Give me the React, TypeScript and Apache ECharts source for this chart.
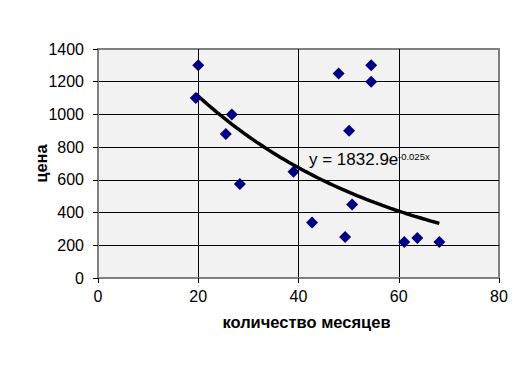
import React, { useEffect, useRef } from "react";
import * as echarts from "echarts";

const months: number[] = [19.5, 20, 26.7, 25.5, 28.3, 39, 42.7, 48, 54.5, 54.5, 50.1, 50.7, 49.3, 61.1, 63.7, 68.1];
const prices: number[] = [1100, 1300, 1000, 880, 575, 650, 340, 1250, 1300, 1200, 900, 450, 250, 220, 245, 220];

const trendA = 1832.9;
const trendK = -0.025;
const trendFrom = 19.5;
const trendTo = 68.1;

const xTicks = [0, 20, 40, 60, 80];
const yTicks = [0, 200, 400, 600, 800, 1000, 1200, 1400];

export default function App() {
  const ref = useRef<HTMLDivElement>(null);
  useEffect(() => {
    document.body.style.margin = "0";
    if (!ref.current) return;
    const chart = echarts.init(ref.current, undefined, { renderer: "svg" });
    const trend: number[][] = [];
    const steps = 60;
    for (let i = 0; i <= steps; i++) {
      const x = trendFrom + ((trendTo - trendFrom) * i) / steps;
      trend.push([x, trendA * Math.exp(trendK * x)]);
    }
    const font = "'Liberation Sans', Arial, sans-serif";
    chart.setOption({
      animation: false,
      backgroundColor: "#ffffff",
      textStyle: { fontFamily: font },
      grid: {
        left: 98,
        right: 24,
        top: 49,
        bottom: 100,
        show: true,
        backgroundColor: "#f2f2f2",
        borderColor: "#808080",
        borderWidth: 2,
      },
      xAxis: {
        type: "value",
        min: xTicks[0],
        max: xTicks[xTicks.length - 1],
        interval: 20,
        name: "количество месяцев",
        nameLocation: "middle",
        nameGap: 35,
        nameMoveOverlap: false,
        nameTextStyle: { fontSize: 16.5, fontWeight: "bold", color: "#000", fontFamily: font, padding: [0, 0, 0, 16] },
        axisLine: { show: true, lineStyle: { color: "#808080", width: 2 } },
        axisTick: { show: true, length: 5, lineStyle: { color: "#000" } },
        axisLabel: { fontSize: 16, color: "#000", margin: 10, fontFamily: font, formatter: (v: number) => String(v) },
        splitLine: { show: true, showMinLine: false, showMaxLine: false, lineStyle: { color: "#000", width: 1 } },
      },
      yAxis: {
        type: "value",
        min: yTicks[0],
        max: yTicks[yTicks.length - 1],
        interval: 200,
        name: "цена",
        nameLocation: "middle",
        nameGap: 49,
        nameMoveOverlap: false,
        nameRotate: 90,
        nameTextStyle: { fontSize: 16.5, fontWeight: "bold", color: "#000", fontFamily: font },
        axisLine: { show: true, lineStyle: { color: "#808080", width: 2 } },
        axisTick: { show: true, length: 5, lineStyle: { color: "#000" } },
        axisLabel: { fontSize: 16, color: "#000", margin: 14, fontFamily: font, formatter: (v: number) => String(v) },
        splitLine: { show: true, showMinLine: false, showMaxLine: false, lineStyle: { color: "#000", width: 1 } },
      },
      series: [
        {
          type: "line",
          data: trend,
          showSymbol: false,
          symbol: "none",
          lineStyle: { color: "#000", width: 3.5 },
          z: 3,
        },
        {
          type: "scatter",
          data: months.map((m, i) => [m, prices[i]]),
          symbol: "diamond",
          symbolSize: 12,
          itemStyle: { color: "#000080", opacity: 1 },
          z: 4,
        },
      ],
      graphic: [
        {
          type: "text",
          left: 309,
          top: 151,
          style: { text: "y = 1832.9e", fontSize: 17, fill: "#000", fontFamily: font },
          z: 10,
        },
        {
          type: "text",
          left: 398,
          top: 151,
          style: { text: "-0.025x", fontSize: 9.5, fill: "#000", fontFamily: font },
          z: 10,
        },
      ],
    });
    return () => chart.dispose();
  }, []);
  return <div ref={ref} style={{ width: 523, height: 378 }} />;
}
